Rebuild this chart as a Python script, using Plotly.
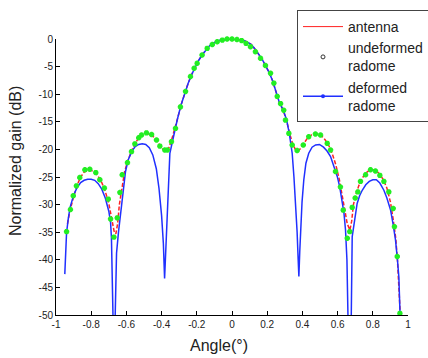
import plotly.graph_objects as go

# ---- data ----
ant_x = [-0.935, -0.92, -0.90, -0.88, -0.86, -0.84, -0.82, -0.80, -0.78, -0.76, -0.74, -0.72, -0.70,
         -0.685, -0.67, -0.66, -0.65, -0.64, -0.625, -0.61, -0.59, -0.57, -0.55, -0.53, -0.51, -0.49,
         -0.47, -0.45, -0.43, -0.41, -0.39, -0.375, -0.36, -0.345, -0.33, -0.31, -0.29, -0.27, -0.25,
         -0.23, -0.21, -0.19, -0.17, -0.15, -0.13, -0.11, -0.09, -0.07, -0.05, -0.03, 0.0,
         0.03, 0.05, 0.07, 0.09, 0.11, 0.13, 0.15, 0.17, 0.19, 0.21, 0.23, 0.25, 0.27, 0.29, 0.31,
         0.33, 0.345, 0.36, 0.375, 0.39, 0.41, 0.43, 0.45, 0.47, 0.49, 0.51, 0.53, 0.55, 0.57, 0.59,
         0.61, 0.625, 0.64, 0.655, 0.67, 0.68, 0.69, 0.70, 0.72, 0.74, 0.76, 0.78, 0.80, 0.82, 0.84,
         0.86, 0.88, 0.90, 0.915, 0.93, 0.94, 0.95, 0.957]
ant_y = [-33.5, -31.0, -28.6, -26.5, -25.0, -24.1, -23.8, -23.8, -24.1, -24.9, -26.0, -27.6, -29.8,
         -32.3, -34.8, -35.3, -33.5, -30.0, -26.5, -24.0, -21.9, -20.2, -18.9, -17.9, -17.3, -17.1,
         -17.2, -17.6, -18.3, -19.3, -20.1, -20.3, -19.8, -18.5, -16.9, -14.5, -12.0, -9.9, -8.1,
         -6.5, -5.1, -3.9, -2.9, -2.0, -1.3, -0.8, -0.45, -0.2, -0.08, -0.02, 0.0,
         -0.02, -0.1, -0.3, -0.6, -1.0, -1.8, -2.6, -3.6, -4.8, -6.0, -7.5, -9.6, -11.6, -12.8, -14.8,
         -17.4, -19.0, -20.0, -20.3, -19.8, -18.8, -17.9, -17.4, -17.2, -17.3, -17.6, -18.3, -19.3, -20.8, -22.8,
         -25.5, -28.0, -30.5, -33.5, -34.6, -33.0, -30.0, -28.6, -26.6, -25.2, -24.3, -23.8, -23.7, -23.9, -24.5,
         -25.5, -27.0, -29.5, -32.5, -36.0, -40.0, -45.0, -50.5]

und_x = [-0.940, -0.918, -0.902, -0.884, -0.865, -0.836, -0.808, -0.774, -0.751, -0.725, -0.703,
         -0.690, -0.671, -0.652, -0.637, -0.624, -0.594, -0.571, -0.552, -0.530, -0.514, -0.486,
         -0.457, -0.429, -0.410, -0.382, -0.367, -0.344, -0.321, -0.293, -0.264, -0.236, -0.215,
         -0.198, -0.170, -0.141, -0.112, -0.084, -0.055, -0.028, 0.000, 0.028, 0.055, 0.080, 0.105,
         0.133, 0.162, 0.190, 0.219, 0.238, 0.257, 0.276, 0.294, 0.304, 0.323, 0.342, 0.370, 0.405,
         0.436, 0.474, 0.503, 0.541, 0.560, 0.588, 0.616, 0.632, 0.655, 0.669, 0.683, 0.700, 0.715,
         0.730, 0.759, 0.787, 0.815, 0.840, 0.863, 0.891, 0.916, 0.923, 0.939, 0.954]
und_y = [-34.9, -30.9, -28.4, -26.6, -25.1, -23.7, -23.6, -24.2, -25.5, -27.0, -29.0,
         -32.6, -35.9, -32.4, -27.8, -24.6, -22.4, -20.4, -19.0, -17.9, -17.4, -17.0,
         -17.3, -18.3, -19.4, -20.1, -20.1, -18.6, -16.2, -12.3, -9.5, -6.8, -5.3,
         -4.4, -2.9, -1.7, -1.0, -0.5, -0.2, 0.0, 0.0, -0.1, -0.3, -0.8, -1.4,
         -2.3, -3.5, -4.8, -6.2, -8.0, -10.4, -11.7, -12.9, -14.7, -17.1, -19.2, -20.2, -19.2,
         -17.7, -17.2, -17.4, -18.9, -20.1, -24.0, -26.8, -31.0, -36.1, -34.9, -30.5, -28.8, -27.7,
         -25.8, -24.6, -23.7, -23.9, -24.7, -25.8, -27.7, -30.7, -34.0, -39.4, -49.7]

def_x = [-0.95, -0.945, -0.94, -0.93, -0.92, -0.90, -0.88, -0.86, -0.84, -0.82, -0.80, -0.78, -0.76,
         -0.74, -0.72, -0.70, -0.69, -0.685, -0.68, -0.675, -0.665, -0.66, -0.656, -0.645, -0.637,
         -0.628, -0.618, -0.605, -0.59, -0.57, -0.55, -0.53, -0.51, -0.49, -0.47, -0.45, -0.43,
         -0.415, -0.40, -0.39, -0.383, -0.377, -0.372, -0.365, -0.358, -0.353, -0.34, -0.325, -0.31,
         -0.29, -0.27, -0.25, -0.23, -0.21, -0.19, -0.17, -0.15, -0.13, -0.11, -0.09, -0.07, -0.05,
         -0.03, 0.0, 0.03, 0.05, 0.07, 0.09, 0.11, 0.13, 0.15, 0.17, 0.19, 0.21, 0.23, 0.25, 0.27,
         0.29, 0.31, 0.325, 0.342, 0.352, 0.361, 0.37, 0.376, 0.380, 0.385, 0.389, 0.398, 0.408,
         0.42, 0.436, 0.455, 0.475, 0.497, 0.52, 0.54, 0.56, 0.58, 0.598, 0.612, 0.626, 0.636,
         0.645, 0.653, 0.66, 0.677, 0.683, 0.697, 0.711, 0.725, 0.740, 0.76, 0.78, 0.80, 0.82,
         0.84, 0.863, 0.88, 0.901, 0.915, 0.929, 0.94, 0.948, 0.957]
def_y = [-42.6, -38.5, -35.1, -32.5, -30.5, -28.3, -26.9, -26.0, -25.6, -25.4, -25.4, -25.6, -26.2,
         -27.2, -28.8, -31.2, -33.2, -36.0, -42.0, -52.0, -52.0, -42.0, -38.8, -35.0, -32.8,
         -29.5, -26.7, -24.0, -21.9, -20.4, -19.5, -19.1, -19.0, -19.1, -19.7, -21.0, -23.5,
         -27.0, -32.0, -37.0, -43.4, -39.0, -35.2, -29.0, -23.5, -20.7, -18.8, -16.5, -14.5,
         -12.0, -9.9, -8.1, -6.5, -5.1, -3.9, -2.9, -2.0, -1.3, -0.8, -0.45, -0.2, -0.08,
         -0.02, 0.0, -0.02, -0.1, -0.3, -0.6, -1.0, -1.8, -2.6, -3.6, -4.8, -6.0, -7.5, -9.6, -11.6,
         -12.8, -14.6, -17.0, -20.7, -25.0, -29.7, -35.0, -40.0, -43.0, -38.5, -34.6, -29.5, -25.5,
         -22.5, -20.7, -19.6, -19.2, -19.1, -19.6, -20.3, -21.3, -23.0, -24.9, -26.8, -29.2, -31.5,
         -34.6, -40.0, -52.0, -52.0, -35.8, -32.5, -29.8, -28.4, -27.4, -26.4, -25.8, -25.5, -25.5,
         -26.1, -27.4, -28.8, -31.0, -33.5, -36.4, -40.0, -43.1, -52.0]

x_ticks = [-1, -0.8, -0.6, -0.4, -0.2, 0, 0.2, 0.4, 0.6, 0.8, 1]
x_tick_text = ["-1", "-0.8", "-0.6", "-0.4", "-0.2", "0", "0.2", "0.4", "0.6", "0.8", "1"]
y_ticks = [0, -5, -10, -15, -20, -25, -30, -35, -40, -45, -50]
y_tick_text = ["0", "-5", "-10", "-15", "-20", "-25", "-30", "-35", "-40", "-45", "-50"]

FONT = "Arial, Liberation Sans, sans-serif"

fig = go.Figure()
fig.add_trace(go.Scatter(x=ant_x, y=ant_y, mode="lines", showlegend=False,
                         line=dict(color="#ff2020", width=1.5, dash="4px,2px")))
fig.add_trace(go.Scatter(x=def_x, y=def_y, mode="lines", showlegend=False,
                         line=dict(color="#2030ff", width=1.5)))
fig.add_trace(go.Scatter(x=und_x, y=und_y, mode="markers", showlegend=False, cliponaxis=False,
                         marker=dict(symbol="asterisk-open", size=4.5, color="#22ee22",
                                     line=dict(color="#22ee22", width=1.8))))
# legend entries
fig.add_trace(go.Scatter(x=[None], y=[None], mode="lines", name="antenna",
                         line=dict(color="#ff2020", width=1)))
fig.add_trace(go.Scatter(x=[None], y=[None], mode="markers", name="undeformed<br>radome",
                         marker=dict(symbol="circle-open", size=4, color="#333",
                                     line=dict(color="#333", width=1))))
fig.add_trace(go.Scatter(x=[None], y=[None], mode="lines+markers", name="deformed<br>radome",
                         line=dict(color="#2030ff", width=1.5),
                         marker=dict(symbol="circle", size=4, color="#2030ff")))

axis_common = dict(showline=True, linecolor="black", linewidth=1, ticks="inside", ticklen=4,
                   tickcolor="black", showgrid=False, zeroline=False, mirror=False,
                   tickfont=dict(family=FONT, size=10, color="#222"))
fig.update_xaxes(range=[-1, 1], tickvals=x_ticks, ticktext=x_tick_text, **axis_common)
fig.update_yaxes(range=[-50, 0], tickvals=y_ticks, ticktext=y_tick_text, **axis_common)

fig.update_layout(
    width=428, height=358,
    margin=dict(l=56, r=20, t=39, b=43, autoexpand=False),
    paper_bgcolor="white", plot_bgcolor="white",
    font=dict(family=FONT, color="#222"),
    legend=dict(x=(297 - 56) / 352, y=(315 - 10) / 276, xanchor="left", yanchor="top",
                bgcolor="white", bordercolor="#444", borderwidth=1,
                font=dict(family=FONT, size=14, color="#222"), tracegroupgap=0,
                itemwidth=40, valign="middle"),
    annotations=[
        dict(text="Normalized gain (dB)", textangle=-90, xref="paper", yref="paper",
             x=(15 - 56) / 352, y=(315 - 161) / 276, xanchor="center", yanchor="middle",
             showarrow=False, font=dict(family=FONT, size=16, color="#222")),
        dict(text="Angle(°)", xref="paper", yref="paper",
             x=(219 - 56) / 352, y=(315 - 345) / 276, xanchor="center", yanchor="middle",
             showarrow=False, font=dict(family=FONT, size=16, color="#222")),
    ],
)

fig.write_html(
    "out.html",
    config={"displayModeBar": False},
    post_script="document.body.style.margin='0';document.body.style.overflow='hidden';",
)
